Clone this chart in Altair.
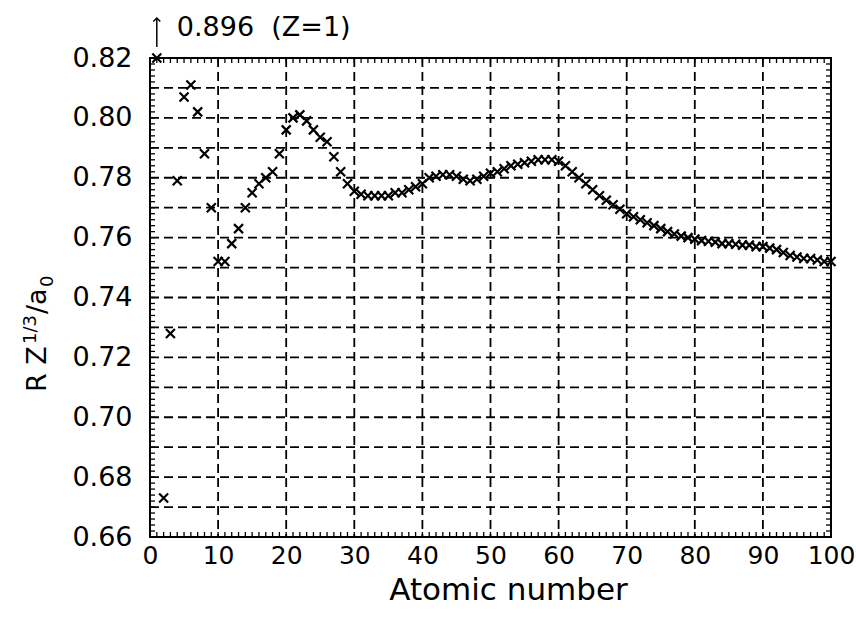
import altair as alt
import pandas as pd

# Scaled radius R * Z^(1/3) / a0 against atomic number Z
atomic_number = list(range(1, 101))
scaled_radius = [
    0.896, 0.673, 0.728, 0.779, 0.807, 0.811, 0.802, 0.788, 0.770, 0.752,
    0.752, 0.758, 0.763, 0.770, 0.775, 0.778, 0.780, 0.782, 0.788, 0.796,
    0.800, 0.801, 0.799, 0.796, 0.7935, 0.792, 0.787, 0.782, 0.778, 0.7755,
    0.7745, 0.774, 0.774, 0.774, 0.774, 0.775, 0.775, 0.776, 0.777, 0.778,
    0.780, 0.7805, 0.781, 0.781, 0.7805, 0.7795, 0.779, 0.7795, 0.7805, 0.7815,
    0.782, 0.783, 0.784, 0.7845, 0.785, 0.7855, 0.786, 0.786, 0.786, 0.7855,
    0.784, 0.782, 0.780, 0.778, 0.776, 0.774, 0.7725, 0.771, 0.7695, 0.768,
    0.767, 0.766, 0.765, 0.764, 0.763, 0.762, 0.7612, 0.7605, 0.760, 0.7595,
    0.759, 0.7588, 0.7585, 0.758, 0.758, 0.7578, 0.7575, 0.7575, 0.757, 0.757,
    0.7565, 0.756, 0.755, 0.754, 0.7535, 0.753, 0.753, 0.7525, 0.752, 0.752,
]

x_labels = list(range(0, 101, 10))
y_labels = [0.66, 0.68, 0.70, 0.72, 0.74, 0.76, 0.78, 0.80, 0.82]
x_grid = list(range(10, 100, 10))
y_grid = [0.67, 0.68, 0.69, 0.70, 0.71, 0.72, 0.73, 0.74, 0.75, 0.76,
          0.77, 0.78, 0.79, 0.80, 0.81]
x_minor = list(range(0, 101))
y_minor = [round(0.66 + 0.002 * i, 3) for i in range(81)]

W, H = 681, 479
FONT = "DejaVu Sans"
Y_TOP = 0.82

df = pd.DataFrame({"Z": atomic_number, "R": scaled_radius})
xs = alt.Scale(domain=[0, 100], nice=False, zero=False)
ys = alt.Scale(domain=[0.66, Y_TOP], nice=False, zero=False)

x_axis = alt.Axis(values=x_labels, labelFont=FONT, labelFontSize=25, labelColor="black",
                  ticks=False, tickSize=0, domain=False, grid=False, labelPadding=6,
                  labelFlush=False, labelOverlap=False,
                  title="Atomic number", titleFont=FONT, titleFontSize=31,
                  titleFontWeight="normal", titleColor="black",
                  titleX=358, titleY=62, titleBaseline="alphabetic")
y_axis = alt.Axis(values=y_labels, format=".2f", labelFont=FONT, labelFontSize=27,
                  labelColor="black", ticks=False, tickSize=0, domain=False, grid=False,
                  labelPadding=18, labelFlush=False, labelOverlap=False, title=None)

# values above the top of the frame are pinned to the edge
points = alt.Chart(df).transform_calculate(
    Rshown=f"min(datum.R, {Y_TOP})"
).mark_point(
    shape="M-1,-1L1,1M1,-1L-1,1", size=81, strokeWidth=2.2, color="black",
    filled=False, opacity=1, clip=False
).encode(
    x=alt.X("Z:Q", scale=xs, axis=x_axis),
    y=alt.Y("Rshown:Q", scale=ys, axis=y_axis),
)

dash = [9, 5]
vgrid = alt.Chart(pd.DataFrame({"g": x_grid})).mark_rule(
    color="black", strokeWidth=1.8, strokeDash=dash
).encode(x=alt.X("g:Q", scale=xs))
hgrid = alt.Chart(pd.DataFrame({"g": y_grid})).mark_rule(
    color="black", strokeWidth=1.8, strokeDash=dash
).encode(y=alt.Y("g:Q", scale=ys))

xm = pd.DataFrame({"t": x_minor})
ym = pd.DataFrame({"t": y_minor})
tick_style = dict(color="black", strokeWidth=1.3)
ticks_bottom = alt.Chart(xm).mark_rule(**tick_style).encode(
    x=alt.X("t:Q", scale=xs), y=alt.value(H), y2=alt.value(H - 5))
ticks_top = alt.Chart(xm).mark_rule(**tick_style).encode(
    x=alt.X("t:Q", scale=xs), y=alt.value(0), y2=alt.value(5))
ticks_left = alt.Chart(ym).mark_rule(**tick_style).encode(
    y=alt.Y("t:Q", scale=ys), x=alt.value(0), x2=alt.value(5))
ticks_right = alt.Chart(ym).mark_rule(**tick_style).encode(
    y=alt.Y("t:Q", scale=ys), x=alt.value(W), x2=alt.value(W - 5))

# off-scale value of hydrogen, written above the frame
first = alt.Chart(df).transform_filter("datum.Z == 1")
off_label = first.transform_calculate(
    label="format(datum.R, '.3f') + '\u00a0\u00a0(Z=' + datum.Z + ')'"
).mark_text(
    font=FONT, fontSize=27, align="left", baseline="alphabetic", dx=20, dy=-22,
    color="black"
).encode(x=alt.X("Z:Q", scale=xs), y=alt.value(0), text="label:N")
arrow_shaft = first.mark_rule(color="black", strokeWidth=1.5).encode(
    x=alt.X("Z:Q", scale=xs), y=alt.value(-11), y2=alt.value(-40))
arrow_head = first.mark_point(
    shape="M-1,1L0,0L1,1", size=49, strokeWidth=1.5, color="black",
    filled=False, opacity=1, clip=False
).encode(x=alt.X("Z:Q", scale=xs), y=alt.value(-40))


def title_piece(s, x, y, size):
    return alt.Chart(pd.DataFrame({"s": [s]})).mark_text(
        font=FONT, fontSize=size, angle=270, align="left", baseline="alphabetic",
        color="black"
    ).encode(text="s:N", x=alt.value(x), y=alt.value(y))


y_title = (
    title_piece("R Z", -104, 334, 27)
    + title_piece("1/3", -114, 286, 18)
    + title_piece("/a", -104, 256, 27)
    + title_piece("0", -97, 229, 18)
)

chart = alt.layer(
    vgrid, hgrid, ticks_bottom, ticks_top, ticks_left, ticks_right,
    points, arrow_shaft, arrow_head, off_label, y_title
).properties(
    width=W, height=H,
    autosize=alt.AutoSizeParams(type="none"),
    padding={"left": 150, "top": 58, "right": 25, "bottom": 84},
    background="white",
).configure_view(stroke="black", strokeWidth=2)

chart.save("out.html", embed_options={"renderer": "svg", "actions": False})
